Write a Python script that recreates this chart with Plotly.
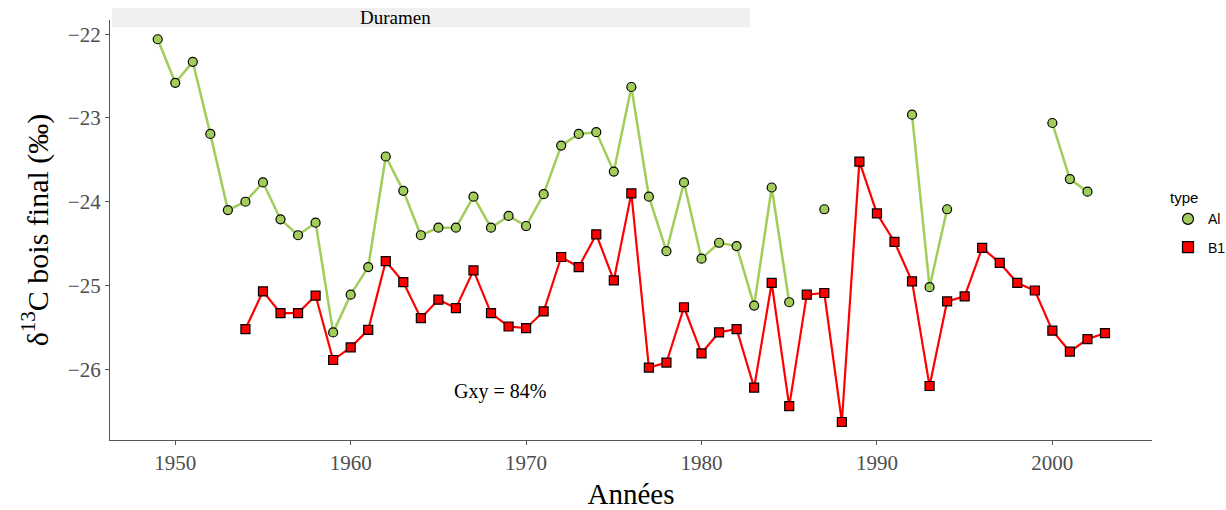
import plotly.graph_objects as go

# Annual series, 1949-2003 (None = no measurement that year)
years = list(range(1949, 2004))

al_values = [
    -22.06, -22.58, -22.33, -23.19, -24.10, -24.00, -23.77, -24.21, -24.40, -24.25,  # 1949-1958
    -25.56, -25.11, -24.78, -23.46, -23.87, -24.40, -24.31, -24.31, -23.94, -24.31,  # 1959-1968
    -24.17, -24.29, -23.91, -23.33, -23.19, -23.17, -23.64, -22.63, -23.94, -24.59,  # 1969-1978
    -23.77, -24.68, -24.49, -24.53, -25.24, -23.83, -25.20, None, -24.09, None,      # 1979-1988
    None, None, None, -22.96, -25.02, -24.09, None, None, None, None,                # 1989-1998
    None, -23.06, -23.73, -23.88, None,                                              # 1999-2003
]

b1_values = [
    None, None, None, None, None, -25.52, -25.07, -25.33, -25.33, -25.12,            # 1949-1958
    -25.89, -25.74, -25.53, -24.71, -24.96, -25.39, -25.17, -25.27, -24.82, -25.33,  # 1959-1968
    -25.49, -25.51, -25.31, -24.66, -24.78, -24.39, -24.94, -23.90, -25.98, -25.92,  # 1969-1978
    -25.26, -25.81, -25.56, -25.52, -26.22, -24.97, -26.44, -25.11, -25.09, -26.63,  # 1979-1988
    -23.52, -24.14, -24.48, -24.95, -26.20, -25.19, -25.13, -24.55, -24.73, -24.97,  # 1989-1998
    -25.06, -25.54, -25.79, -25.64, -25.57,                                          # 1999-2003
]

series_names = ["Al", "B1"]
series_colors = ["#A2CD5A", "#FF0000"]
series_symbols = ["circle", "square"]
gxy_label = "Gxy = 84%"
gxy_pos = (1968.5, -26.27)
panel_title = "Duramen"

serif = "Liberation Serif, Times New Roman, serif"
sans = "Liberation Sans, Arial, sans-serif"

fig = go.Figure()

for name, vals, col, sym, lw in zip(series_names, [al_values, b1_values],
                                    series_colors, series_symbols, [2.5, 2.2]):
    # data: line + markers, gaps left open
    fig.add_trace(go.Scatter(
        x=years, y=vals, name=name, mode="lines+markers", connectgaps=False,
        showlegend=False, legendgroup=name,
        line=dict(color=col, width=lw),
        marker=dict(symbol=sym, size=9, color=col,
                    line=dict(color="black", width=1.2)),
    ))
    # legend key: marker only
    fig.add_trace(go.Scatter(
        x=[None], y=[None], name=name, mode="markers", legendgroup=name,
        marker=dict(symbol=sym, size=11, color=col,
                    line=dict(color="black", width=1.2)),
    ))

# Gxy annotation inside the panel
fig.add_annotation(
    x=gxy_pos[0], y=gxy_pos[1], xref="x", yref="y", text=gxy_label,
    showarrow=False, xanchor="center", yanchor="middle",
    font=dict(family=serif, size=20, color="black"),
)

# Plot area geometry (paper = everything right of the left margin)
dom_right = 1042 / 1116

# Facet strip
fig.add_shape(
    type="rect", xref="paper", yref="paper",
    x0=2 / 1116, x1=640 / 1116, y0=0.983, y1=1.0286,
    fillcolor="#F0F0F0", line=dict(width=0), layer="below",
)
fig.add_annotation(
    x=285 / 1116, y=1.006, xref="paper", yref="paper", text=panel_title,
    showarrow=False, xanchor="center", yanchor="middle",
    font=dict(family=serif, size=19, color="black"),
)

fig.update_layout(
    width=1226, height=510,
    margin=dict(l=110, r=0, t=20, b=70, autoexpand=False),
    plot_bgcolor="white", paper_bgcolor="white",
    legend=dict(
        title=dict(text="type", font=dict(family=sans, size=15, color="black")),
        font=dict(family=sans, size=14, color="black"),
        x=1058 / 1116, xanchor="left", y=0.61, yanchor="top",
        bgcolor="rgba(0,0,0,0)", itemwidth=30, tracegroupgap=7,
    ),
    xaxis=dict(
        domain=[0, dom_right],
        range=[1946.28, 2005.68], tickmode="array",
        tickvals=[1950, 1960, 1970, 1980, 1990, 2000],
        showgrid=False, zeroline=False, automargin=False,
        showline=True, linecolor="#555555", linewidth=1.3,
        ticks="outside", ticklen=4, tickcolor="#555555",
        tickfont=dict(family=serif, size=21, color="#4D4D4D"),
        title=dict(text="Années", font=dict(family=serif, size=29, color="black"),
                   standoff=12),
    ),
    yaxis=dict(
        range=[-26.845, -21.83], tickmode="array",
        tickvals=[-26, -25, -24, -23, -22],
        showgrid=False, zeroline=False, automargin=False,
        showline=True, linecolor="#555555", linewidth=1.3,
        ticks="outside", ticklen=4, tickcolor="#555555",
        tickfont=dict(family=serif, size=21, color="#4D4D4D"),
        title=dict(text="δ<sup>13</sup>C bois final (‰)",
                   font=dict(family=serif, size=30, color="black"), standoff=10),
    ),
)

fig.write_html("out.html")
